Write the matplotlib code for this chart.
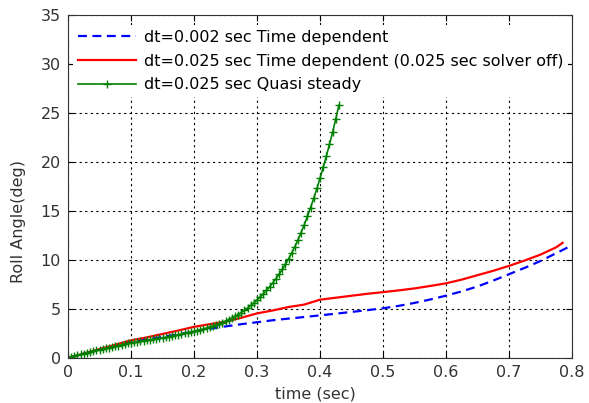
import matplotlib.pyplot as plt
import numpy as np

plt.rcParams['font.family'] = ['DejaVu Sans']

# dt=0.002 sec, time dependent
t_fine = [0.0, 0.025, 0.05, 0.075, 0.1, 0.125, 0.15, 0.175, 0.2, 0.225, 0.25,
          0.275, 0.3, 0.325, 0.35, 0.375, 0.4, 0.425, 0.45, 0.475, 0.5, 0.525,
          0.55, 0.575, 0.6, 0.625, 0.65, 0.675, 0.7, 0.725, 0.75, 0.775, 0.8]
roll_fine = [0.0, 0.45, 0.88, 1.28, 1.62, 1.90, 2.15, 2.42, 2.70, 2.98, 3.22,
             3.45, 3.65, 3.85, 4.02, 4.18, 4.35, 4.52, 4.70, 4.88, 5.07, 5.32,
             5.62, 5.97, 6.36, 6.80, 7.30, 7.90, 8.55, 9.20, 9.90, 10.70, 11.50]

# dt=0.025 sec, time dependent
t_td = [0.0, 0.025, 0.05, 0.075, 0.1, 0.125, 0.15, 0.175, 0.2, 0.225, 0.25,
        0.275, 0.3, 0.325, 0.35, 0.375, 0.4, 0.425, 0.45, 0.475, 0.5, 0.525,
        0.55, 0.575, 0.6, 0.625, 0.65, 0.675, 0.7, 0.725, 0.75, 0.775, 0.785]
roll_td = [0.0, 0.45, 0.90, 1.35, 1.80, 2.10, 2.45, 2.80, 3.18, 3.45, 3.70,
           4.10, 4.55, 4.85, 5.20, 5.45, 5.95, 6.15, 6.35, 6.55, 6.72, 6.90,
           7.10, 7.35, 7.62, 8.00, 8.45, 8.90, 9.40, 9.95, 10.55, 11.30, 11.75]

# dt=0.025 sec, quasi steady (sampled every 0.005 s)
t_qs = np.arange(87) * 0.005
roll_qs = [0.00, 0.10, 0.20, 0.28, 0.36, 0.45, 0.53, 0.61, 0.69, 0.77,
           0.85, 0.92, 0.99, 1.06, 1.13, 1.20, 1.27, 1.34, 1.41, 1.48,
           1.55, 1.60, 1.65, 1.70, 1.75, 1.80, 1.85, 1.90, 1.95, 2.00,
           2.05, 2.11, 2.17, 2.23, 2.30, 2.37, 2.44, 2.51, 2.58, 2.65,
           2.72, 2.80, 2.88, 2.97, 3.06, 3.16, 3.26, 3.37, 3.49, 3.62,
           3.76, 3.91, 4.07, 4.24, 4.43, 4.64, 4.86, 5.10, 5.36, 5.63,
           5.92, 6.23, 6.56, 6.90, 7.27, 7.67, 8.10, 8.55, 9.03, 9.55,
           10.10, 10.70, 11.35, 12.05, 12.80, 13.60, 14.45, 15.35, 16.30, 17.30,
           18.35, 19.45, 20.60, 21.80, 23.05, 24.40, 25.80]

fig = plt.figure(figsize=(5.89, 4.03), dpi=100)
ax = fig.add_axes([0.1155, 0.1117, 0.8557, 0.8511])

ax.plot(t_fine, roll_fine, '--', color='#0000ff', lw=1.6, dashes=(4, 2.5),
        label='dt=0.002 sec Time dependent')
ax.plot(t_td, roll_td, '-', color='#ff0000', lw=1.6,
        label='dt=0.025 sec Time dependent (0.025 sec solver off)')
ax.plot(t_qs, roll_qs, '-', color='#008000', lw=1.2, marker='+', ms=6,
        markeredgewidth=1.0, label='dt=0.025 sec Quasi steady')

fs = 11.5
ax.set_xlim(0, 0.8)
ax.set_ylim(0, 35)
ax.set_xticks(np.arange(0, 0.81, 0.1))
ax.set_xticklabels(['0', '0.1', '0.2', '0.3', '0.4', '0.5', '0.6', '0.7', '0.8'])
ax.set_yticks(range(0, 36, 5))
ax.tick_params(direction='in', top=True, right=True, labelsize=fs,
               labelcolor='#333333', length=4, pad=5)
ax.grid(True, color='black', linestyle=(0, (2, 3)), linewidth=0.8)
ax.set_xlabel('time (sec)', fontsize=fs, color='#333333')
ax.set_ylabel('Roll Angle(deg)', fontsize=fs, color='#333333')
ax.xaxis.set_label_coords(0.49, -0.082)
ax.yaxis.set_label_coords(-0.083, 0.397)
for s in ax.spines.values():
    s.set_color('#333333')

leg = ax.legend(loc='upper left', bbox_to_anchor=(0.0105, 0.971), frameon=True,
                fontsize=fs, handlelength=3.6, handletextpad=0.5,
                labelspacing=0.55, borderaxespad=0, borderpad=0.3,
                fancybox=False, facecolor='white', edgecolor='none',
                framealpha=1)

fig.savefig('out.png', dpi=100)
